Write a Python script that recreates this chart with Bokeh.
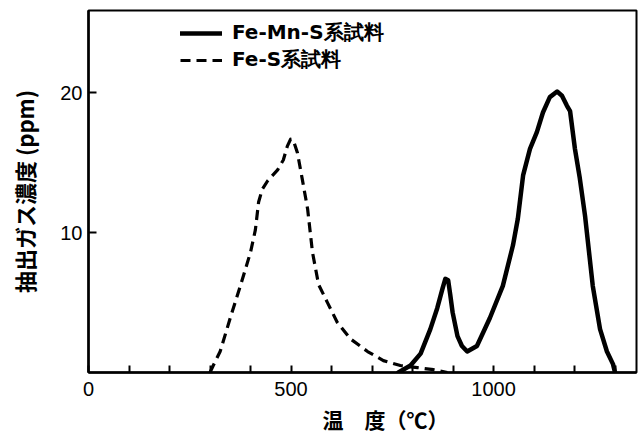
from bokeh.plotting import figure
from bokeh.models import Range1d, FixedTicker, Legend, LegendItem, Title
from bokeh.embed import file_html
from bokeh.resources import INLINE

# ---- data ----
fe_mn_s_temp = [765, 795, 820, 844, 861, 874, 881, 888, 893, 899, 911, 922, 935, 959, 991,
                1023, 1048, 1060, 1073, 1090, 1107, 1122, 1139, 1157, 1169, 1181, 1189,
                1201, 1213, 1226, 1245, 1263, 1280, 1295, 1300]
fe_mn_s_ppm = [0.0, 0.5, 1.35, 3.1, 4.6, 6.0, 6.7, 6.6, 5.6, 4.3, 2.6, 1.9, 1.5, 1.9, 3.9,
               6.2, 9.1, 11.0, 14.1, 16.0, 17.2, 18.6, 19.7, 20.1, 19.8, 19.1, 18.7,
               16.0, 13.9, 11.2, 6.2, 3.1, 1.5, 0.6, 0.0]

fe_s_temp = [300, 308, 325, 350, 375, 400, 412, 420, 429, 442, 467, 481, 491, 499, 507,
             516, 528, 541, 553, 568, 590, 614, 647, 689, 728, 770, 812, 852, 886]
fe_s_ppm = [0.0, 0.5, 1.5, 3.9, 6.2, 8.6, 10.2, 12.2, 13.1, 13.7, 14.5, 15.2, 16.2, 16.7, 16.5,
            15.7, 13.8, 11.7, 8.6, 6.3, 5.0, 3.6, 2.4, 1.5, 0.85, 0.5, 0.35, 0.2, 0.0]

series_labels = ["Fe-Mn-S系試料", "Fe-S系試料"]
x_major_ticks = [0, 500, 1000]
x_minor_ticks = [100, 200, 300, 400, 600, 700, 800, 900, 1100, 1200, 1300]
y_ticks = [10, 20]
x_title = "温　度（℃）"
y_title = "抽出ガス濃度 (ppm)"

num_font = "Liberation Sans"
cjk_font = "Noto Sans CJK JP"

p = figure(width=638, height=437, output_backend="svg", toolbar_location=None,
           x_range=Range1d(0, 1353), y_range=Range1d(0, 25.9),
           min_border_left=88, min_border_right=2, min_border_top=10, min_border_bottom=63)
p.grid.visible = False
p.background_fill_color = "white"
p.border_fill_color = "white"
p.outline_line_color = "black"
p.outline_line_width = 2

solid = p.line(fe_mn_s_temp, fe_mn_s_ppm, line_color="black", line_width=4.5,
               line_join="round", line_cap="round")
dashed = p.line(fe_s_temp, fe_s_ppm, line_color="black", line_width=3.2,
                line_dash="10 6", line_join="round")

# x axis
xa = p.xaxis[0]
xa.ticker = FixedTicker(ticks=x_major_ticks, minor_ticks=x_minor_ticks)
xa.axis_line_width = 2.5
xa.major_tick_in = 7
xa.major_tick_out = 0
xa.minor_tick_in = 7
xa.minor_tick_out = 0
xa.major_tick_line_width = 2
xa.minor_tick_line_width = 2
xa.major_label_standoff = 9
xa.major_label_text_font = num_font
xa.major_label_text_font_size = "20px"
xa.major_label_text_color = "black"

# x title below the axis
p.add_layout(Title(text=x_title, align="left", offset=234, standoff=7,
                   text_font=cjk_font, text_font_style="bold",
                   text_font_size="21px", text_color="black"), "below")

# y axis
ya = p.yaxis[0]
ya.ticker = FixedTicker(ticks=y_ticks, minor_ticks=[])
ya.axis_line_width = 2.5
ya.major_tick_in = 8
ya.major_tick_out = 0
ya.major_tick_line_width = 2
ya.major_label_standoff = 6
ya.major_label_text_font = num_font
ya.major_label_text_font_size = "20px"
ya.major_label_text_color = "black"
ya.axis_label = y_title
ya.axis_label_text_font = cjk_font
ya.axis_label_text_font_style = "bold"
ya.axis_label_text_font_size = "22px"
ya.axis_label_text_color = "black"
ya.axis_label_standoff = 17

legend = Legend(items=[LegendItem(label=series_labels[0], renderers=[solid]),
                       LegendItem(label=series_labels[1], renderers=[dashed])],
                location=(92, 299), glyph_width=42, glyph_height=20, label_height=20,
                spacing=0, padding=0, margin=0, border_line_color=None,
                background_fill_alpha=0, label_standoff=10,
                label_text_font="DejaVu Sans", label_text_font_style="bold",
                label_text_font_size="20px", label_text_color="black")
p.add_layout(legend)

open("out.html", "w").write(file_html(p, INLINE))
